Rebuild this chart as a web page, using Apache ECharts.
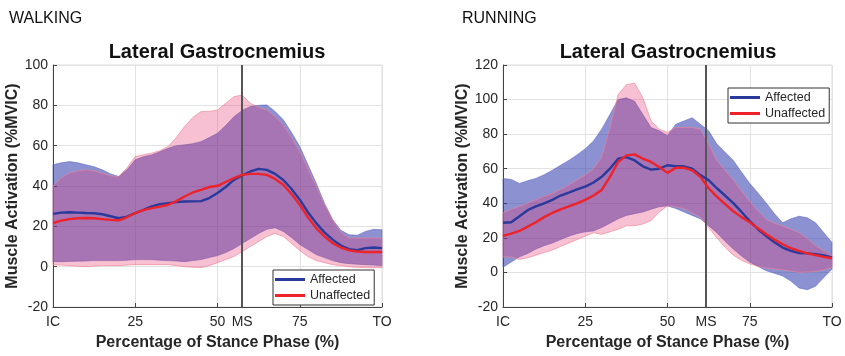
<!DOCTYPE html>
<html>
<head>
<meta charset="utf-8">
<script src="https://cdn.jsdelivr.net/npm/echarts@6/dist/echarts.min.js"></script>
<style>
html,body{margin:0;padding:0;background:#fff;}
#main{width:845px;height:356px;}
</style>
</head>
<body>
<div id="main"></div>
<script>
// percentage of stance phase, same for both panels
var pct = [];
for (var i = 0; i <= 40; i++) pct.push(i * 2.5);

var xTicks = {0: 'IC', 25: '25', 50: '50', 75: '75', 100: 'TO'};
var msWalk = 57.5;
var msRun = 61.7;

// WALKING
var walkAffMean = [26.2,26.8,27,26.8,26.6,26.5,26,25,24,24.8,26.6,28.2,29.9,31,31.5,32,32.3,32.4,32.5,34,36.5,39.5,43,45.2,47.2,48.5,48,46,43,38.5,33.2,27,21.6,17,13.4,10.5,8.7,8.2,9.2,9.5,9.2];
var walkUnaMean = [21.6,22.8,23.6,24,24.1,24,23.6,23.2,23,24.5,26.6,28,29,29.8,30.7,32.5,34.8,36.8,38.1,39.5,40.1,42,43.9,45.5,46,46,45.5,43.5,40.6,36,30.7,24.5,19.1,15,11.7,9.5,8.1,7.5,7.3,7.3,7.3];
var walkAffUp = [50.5,51.5,52.1,51.5,50.5,49.5,48,46,44.7,48,53,54.5,55.4,57,58.7,60,60.4,61,62,64,66.2,70,74.4,77.5,79.4,80,80.2,77,72.8,66.5,59.6,50.5,41.4,31.5,23.3,18,15.8,15.6,17.5,18.5,18.3];
var walkUnaUp = [40.1,44,46.4,47.5,48,47.5,46.4,45,44.7,49,54.6,55.5,56.3,57.5,59.6,64,69.5,74,76.9,77,77.7,81,84.3,85.1,81,79,77.7,74.5,70.3,64,57.1,48.5,39.8,31,23.3,17,14.2,14.2,14.2,14.2,14.2];
var walkAffLo = [2.5,2.5,2.6,2.7,2.8,3,3,3,3,3.2,3.5,3.5,3.5,3.2,3,2.8,2.5,3,3.5,4.5,5.5,7,9,11.5,14,16.5,18.5,19.3,17.5,14.5,11,8.5,6,4.5,3,2,1.5,1.2,1,0.8,0.5];
var walkUnaLo = [1,0.8,0.5,0.2,0,0.3,0.5,0.5,0.5,0.8,1,1,1,1,1,0.5,0,-0.3,-0.5,0.5,2,3.5,5,7.5,10,12.5,15,16.5,15,11.5,8,5,3,2,1,0.5,0,-0.3,-0.5,-0.5,-0.5];

// RUNNING
var runAffMean = [28.7,29,32.5,36,38.2,40,42,44.5,46.2,48,49.6,52,55.3,60,65.8,66.7,64.8,61.4,59.5,60,62,61.4,61.4,60,56.3,53.4,48.7,44.5,40.1,35,29.7,25,21.1,17.5,14.4,12.5,11.2,11,10.6,9.8,8.7];
var runUnaMean = [21.1,22.5,24,26.5,29,32,34.4,36.5,38.2,40,42,44.5,47.7,55.3,63.9,67.7,68.3,65.8,63.9,61,57.6,60.6,60.6,59.1,55.3,48.7,43.9,39.5,35.4,32,29,25.5,22.1,19,16.3,14,12.5,11,10,9,8.2];
var runAffUp = [54.4,53.8,51.5,53,54.4,56.5,59.1,62,64.8,68,71.5,76,82.9,91.4,100,101,99,91.4,83.8,81.9,79.1,85.7,87.6,89.5,85.7,81.9,74.3,69.5,64.8,58,51.5,46,40.1,34,28.7,31,32.5,31.6,28.7,23,17.3];
var runUnaUp = [34.4,36.5,38.2,40,42,44,45.8,48,50.6,53.5,56.3,60,66.7,83.8,102.9,108.6,109.5,101,87.6,82.9,81,83.8,83.8,83.8,82.9,74.3,64.8,59,53.4,47,41.1,35.5,30.6,28.5,26.8,25,23,19.5,15.4,12.5,9.7];
var runAffLo = [3,6,9,11,13.5,15.5,17,19,21,22.5,23.5,24,26,28.5,31,33,34,35,36.5,38,38.5,37,35,33,31,27,23,18,13.5,9.5,6,3.5,1,-0.5,-2,-5,-9,-10,-8,-3,2];
var runUnaLo = [9,9,7.5,8.5,10,11.5,13,15,17,19,21,23,22,23.5,25,27,27,28,30,35,38.5,38,37,34.5,32,26,20,14.5,10,7,5,3.5,2.5,2,1.5,0.8,0,0.3,0.5,1.5,3];

var blue = '#2a3a9c';
var red = '#ee2229';
var blueBand = 'rgba(46,55,173,0.55)';
var redBand = 'rgba(230,50,110,0.3)';
var textCol = '#262626';

function pairs(vals) {
  return pct.map(function (p, i) { return [p, vals[i]]; });
}

// shaded band between lo and up, drawn as one polygon through the axis scales
function band(idx, lo, up, fill, edge) {
  return {
    type: 'custom', xAxisIndex: idx, yAxisIndex: idx, silent: true, z: 2,
    data: pct.map(function (p, i) { return [p, lo[i], up[i]]; }),
    encode: {x: 0, y: [1, 2]},
    renderItem: function (params, api) {
      if (params.dataIndex !== 0) return null;
      var pts = [];
      for (var k = 0; k < pct.length; k++) pts.push(api.coord([pct[k], up[k]]));
      for (var k = pct.length - 1; k >= 0; k--) pts.push(api.coord([pct[k], lo[k]]));
      return {
        type: 'polygon',
        shape: {points: pts},
        style: {fill: fill, stroke: edge, lineWidth: 0.8}
      };
    }
  };
}

function meanLine(idx, name, vals, col, ms) {
  var s = {
    name: name, type: 'line', xAxisIndex: idx, yAxisIndex: idx,
    symbol: 'none', lineStyle: {width: 2.4, color: col}, itemStyle: {color: col},
    data: pairs(vals), z: 5
  };
  if (ms != null) {
    s.markLine = {
      silent: true, symbol: 'none',
      lineStyle: {color: '#555', width: 2, type: 'solid'},
      label: {position: 'start', formatter: 'MS', color: textCol, fontSize: 14, distance: 8},
      data: [{xAxis: ms}]
    };
  }
  return s;
}

function xAxisFor(idx) {
  return {
    type: 'value', gridIndex: idx, min: 0, max: 100, interval: 25,
    name: 'Percentage of Stance Phase (%)', nameLocation: 'middle', nameGap: 28,
    nameTextStyle: {fontSize: 16, fontWeight: 'bold', color: textCol},
    axisLine: {onZero: false, lineStyle: {color: '#444'}},
    axisTick: {inside: true, length: 4, lineStyle: {color: '#444'}},
    axisLabel: {
      fontSize: 14, color: textCol, margin: 8,
      formatter: function (v) { return xTicks[v] != null ? xTicks[v] : ''; }
    },
    splitLine: {show: true, lineStyle: {color: '#e2e2e2'}}
  };
}

function yAxisFor(idx, max) {
  return {
    type: 'value', gridIndex: idx, min: -20, max: max, interval: 20,
    name: 'Muscle Activation (%MVIC)', nameLocation: 'middle', nameGap: 32,
    nameTextStyle: {fontSize: 16, fontWeight: 'bold', color: textCol},
    axisLine: {show: true, onZero: false, lineStyle: {color: '#444'}},
    axisTick: {show: true, inside: true, length: 4, lineStyle: {color: '#444'}},
    axisLabel: {fontSize: 14, color: textCol, margin: 5},
    splitLine: {show: true, lineStyle: {color: '#e2e2e2'}}
  };
}

var series = [
  band(0, walkAffLo, walkAffUp, blueBand, 'rgba(90,100,190,0.7)'),
  band(0, walkUnaLo, walkUnaUp, redBand, 'rgba(240,130,150,0.8)'),
  meanLine(0, 'Affected', walkAffMean, blue, msWalk),
  meanLine(0, 'Unaffected', walkUnaMean, red),
  band(1, runAffLo, runAffUp, blueBand, 'rgba(90,100,190,0.7)'),
  band(1, runUnaLo, runUnaUp, redBand, 'rgba(240,130,150,0.8)'),
  meanLine(1, 'Affected', runAffMean, blue, msRun),
  meanLine(1, 'Unaffected', runUnaMean, red)
];

var legendBase = {
  orient: 'vertical', data: [{name: 'Affected', icon: 'rect'}, {name: 'Unaffected', icon: 'rect'}],
  itemWidth: 30, itemHeight: 3, itemGap: 3, padding: [3, 4, 3, 2],
  borderColor: '#333', borderWidth: 1, backgroundColor: '#fff',
  textStyle: {fontSize: 12.5, color: textCol},
  selectedMode: false
};

var myChart = echarts.init(document.getElementById('main'));
var option = {
  animation: false,
  textStyle: {fontFamily: 'Liberation Sans, Arial, sans-serif'},
  title: [
    {text: 'WALKING', left: 4, top: 6, textStyle: {fontSize: 16, fontWeight: 'normal', color: '#111'}},
    {text: 'RUNNING', left: 457, top: 6, textStyle: {fontSize: 16, fontWeight: 'normal', color: '#111'}},
    {text: 'Lateral Gastrocnemius', left: 212, top: 37, textAlign: 'center', textStyle: {fontSize: 20, fontWeight: 'bold', color: '#111'}},
    {text: 'Lateral Gastrocnemius', left: 663, top: 37, textAlign: 'center', textStyle: {fontSize: 20, fontWeight: 'bold', color: '#111'}}
  ],
  legend: [
    Object.assign({}, legendBase, {left: 273, top: 270}),
    Object.assign({}, legendBase, {left: 728, top: 88})
  ],
  grid: [
    {left: 53, right: 463, top: 65, bottom: 49, show: true, borderColor: '#dcdcdc', borderWidth: 1},
    {left: 503, right: 13, top: 65, bottom: 49, show: true, borderColor: '#dcdcdc', borderWidth: 1}
  ],
  xAxis: [xAxisFor(0), xAxisFor(1)],
  yAxis: [yAxisFor(0, 100), yAxisFor(1, 120)],
  series: series
};
myChart.setOption(option);
</script>
</body>
</html>
